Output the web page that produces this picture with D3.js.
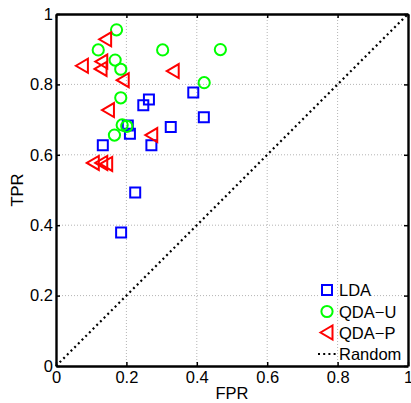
<!DOCTYPE html>
<html>
<head>
<meta charset="utf-8">
<script src="https://cdn.jsdelivr.net/npm/d3@7"></script>
<style>
  html, body { margin: 0; padding: 0; background: #fff; }
  svg { display: block; font-family: "Liberation Sans", Arial, Helvetica, sans-serif; }
</style>
</head>
<body>
<svg id="chart" width="411" height="403"></svg>
<script>
// ROC operating points per classifier
const ldaFPR  = [0.390, 0.264, 0.248, 0.420, 0.326, 0.204, 0.210, 0.271, 0.133, 0.225, 0.185];
const ldaTPR  = [0.777, 0.757, 0.741, 0.707, 0.679, 0.683, 0.660, 0.627, 0.627, 0.493, 0.379];
const qdauFPR = [0.172, 0.120, 0.303, 0.467, 0.168, 0.184, 0.421, 0.184, 0.188, 0.201, 0.166];
const qdauTPR = [0.955, 0.898, 0.898, 0.899, 0.869, 0.843, 0.805, 0.762, 0.685, 0.681, 0.656];
const qdapFPR = [0.141, 0.075, 0.130, 0.128, 0.191, 0.333, 0.149, 0.272, 0.106, 0.130, 0.144];
const qdapTPR = [0.928, 0.853, 0.865, 0.844, 0.812, 0.838, 0.727, 0.656, 0.577, 0.577, 0.574];
const randomFPR = [0, 1];
const randomTPR = [0, 1];
const tickValues = [0, 0.2, 0.4, 0.6, 0.8, 1];
const tickLabels = ["0", "0.2", "0.4", "0.6", "0.8", "1"];
const seriesNames = ["LDA", "QDA\u2212U", "QDA\u2212P", "Random"];

const svg = d3.select("#chart");
const margin = { left: 56, top: 14 };
const size = 352;
const fontSize = 16.5;

const x = d3.scaleLinear().domain([0, 1]).range([margin.left, margin.left + size]);
const y = d3.scaleLinear().domain([0, 1]).range([margin.top + size, margin.top]);

// dotted grid
const grid = svg.append("g").attr("stroke", "#b4b4b4").attr("stroke-width", 1)
  .attr("stroke-dasharray", "1,2");
tickValues.slice(1, -1).forEach(t => {
  grid.append("line").attr("x1", x(t)).attr("x2", x(t)).attr("y1", y(0)).attr("y2", y(1));
  grid.append("line").attr("y1", y(t)).attr("y2", y(t)).attr("x1", x(0)).attr("x2", x(1));
});

// chance diagonal
svg.append("path")
  .datum(randomFPR.map((v, i) => [v, randomTPR[i]]))
  .attr("d", d3.line().x(d => x(d[0])).y(d => y(d[1])))
  .attr("fill", "none").attr("stroke", "#000").attr("stroke-width", 2.2)
  .attr("stroke-dasharray", "2,3.2");

// marker shapes
const squarePath = "M-5,-5H5V5H-5Z";
const trianglePath = "M-6.5,0L5.5,-7L5.5,7Z";

function drawSquares(g, xs, ys) {
  g.selectAll(null).data(xs).enter().append("path")
    .attr("transform", (d, i) => `translate(${x(d)},${y(ys[i])})`)
    .attr("d", squarePath).attr("fill", "none").attr("stroke", "#0000ff").attr("stroke-width", 2);
}
function drawCircles(g, xs, ys) {
  g.selectAll(null).data(xs).enter().append("circle")
    .attr("cx", d => x(d)).attr("cy", (d, i) => y(ys[i])).attr("r", 5.6)
    .attr("fill", "none").attr("stroke", "#00ff00").attr("stroke-width", 2);
}
function drawTriangles(g, xs, ys) {
  g.selectAll(null).data(xs).enter().append("path")
    .attr("transform", (d, i) => `translate(${x(d)},${y(ys[i])})`)
    .attr("d", trianglePath).attr("fill", "none").attr("stroke", "#ff0000").attr("stroke-width", 2)
    .attr("stroke-linejoin", "miter");
}

drawSquares(svg.append("g"), ldaFPR, ldaTPR);
drawCircles(svg.append("g"), qdauFPR, qdauTPR);
drawTriangles(svg.append("g"), qdapFPR, qdapTPR);

// axes (ticks inward on all four sides)
const fmt = (d) => tickLabels[tickValues.indexOf(d)];
const axB = svg.append("g").attr("transform", `translate(0,${y(0)})`)
  .call(d3.axisBottom(x).tickValues(tickValues).tickFormat(fmt).tickSizeInner(-4).tickSizeOuter(0).tickPadding(7));
const axL = svg.append("g").attr("transform", `translate(${x(0)},0)`)
  .call(d3.axisLeft(y).tickValues(tickValues).tickFormat(fmt).tickSizeInner(-4).tickSizeOuter(0).tickPadding(3));
const axT = svg.append("g").attr("transform", `translate(0,${y(1)})`)
  .call(d3.axisTop(x).tickValues(tickValues).tickFormat("").tickSizeInner(-4).tickSizeOuter(0));
const axR = svg.append("g").attr("transform", `translate(${x(1)},0)`)
  .call(d3.axisRight(y).tickValues(tickValues).tickFormat("").tickSizeInner(-4).tickSizeOuter(0));

[axB, axL, axT, axR].forEach(a => {
  a.select(".domain").attr("stroke", "#000").attr("stroke-width", 2.4);
  a.selectAll(".tick line").attr("stroke", "#000").attr("stroke-width", 1.5);
  a.selectAll(".tick text").attr("fill", "#000").attr("font-size", fontSize)
    .attr("font-family", "Liberation Sans, Arial, sans-serif");
});
axB.selectAll(".tick text").attr("dy", "0.6em");

// axis titles
svg.append("text").attr("x", x(0.5)).attr("y", 399).attr("text-anchor", "middle")
  .attr("font-size", fontSize).text("FPR");
svg.append("text").attr("transform", `translate(23,${y(0.5)}) rotate(-90)`)
  .attr("text-anchor", "middle").attr("font-size", fontSize).text("TPR");

// legend
const legendRows = [290, 311.5, 332.5, 354];
const leg = svg.append("g");
seriesNames.forEach((name, i) => {
  const ry = legendRows[i];
  leg.append("rect").attr("x", 318).attr("y", ry - 8).attr("width", 18).attr("height", 16).attr("fill", "#fff");
  const t = leg.append("text").attr("x", 339).attr("y", ry + 6).attr("font-size", fontSize).text(name);
  const bb = t.node().getBBox();
  leg.insert("rect", "text").attr("x", bb.x).attr("y", bb.y + 1).attr("width", bb.width).attr("height", bb.height - 2)
    .attr("fill", "#fff");
});
const icons = leg.append("g");
icons.append("path").attr("transform", `translate(327,${legendRows[0]})`).attr("d", squarePath)
  .attr("fill", "none").attr("stroke", "#0000ff").attr("stroke-width", 2);
icons.append("circle").attr("cx", 327).attr("cy", legendRows[1]).attr("r", 5.6)
  .attr("fill", "none").attr("stroke", "#00ff00").attr("stroke-width", 2);
icons.append("path").attr("transform", `translate(327,${legendRows[2]})`).attr("d", trianglePath)
  .attr("fill", "none").attr("stroke", "#ff0000").attr("stroke-width", 2);
icons.append("line").attr("x1", 318).attr("x2", 337).attr("y1", legendRows[3]).attr("y2", legendRows[3])
  .attr("stroke", "#000").attr("stroke-width", 2.2).attr("stroke-dasharray", "2,3.2");
</script>
</body>
</html>
